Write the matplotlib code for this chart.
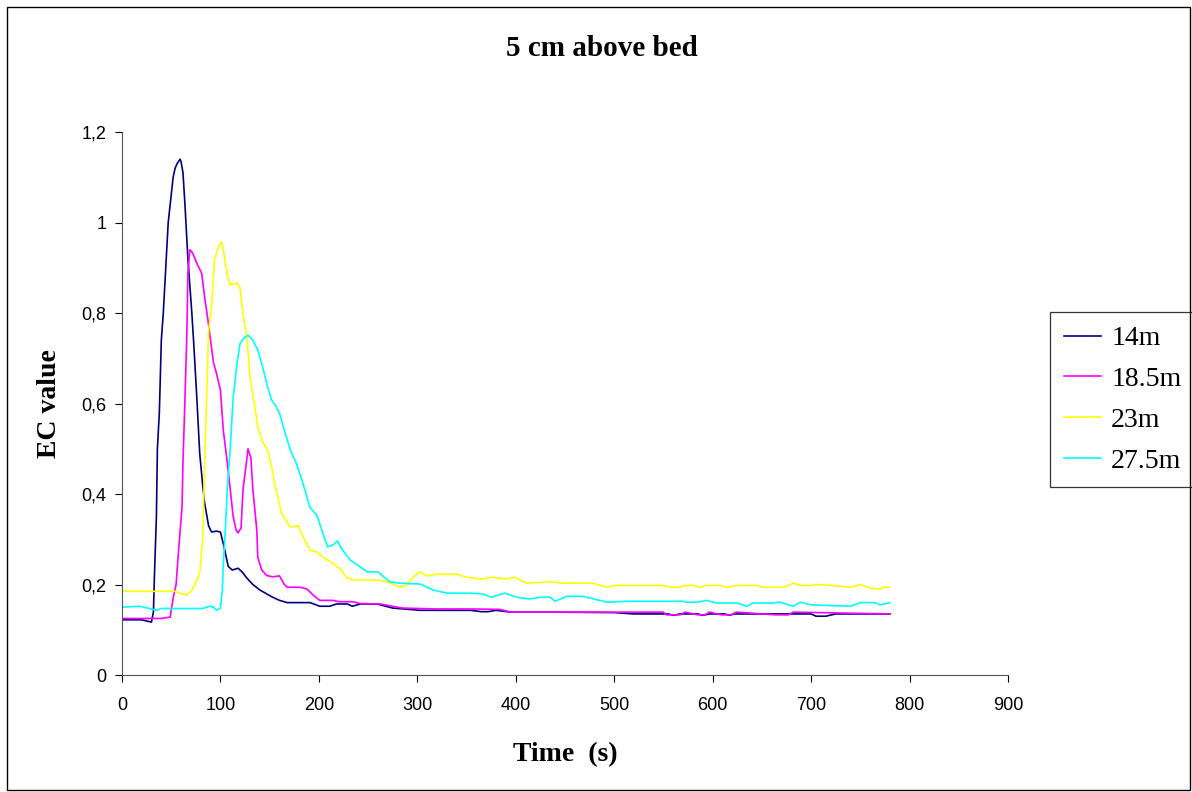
import matplotlib
matplotlib.use('Agg')
import matplotlib.pyplot as plt
from matplotlib.patches import Rectangle
from matplotlib.ticker import FuncFormatter

# ── data (time in s, EC value) ───────────────────────────────────────────
t_14 = [0, 10, 20, 26, 30, 32, 33, 35, 36, 38, 40, 42, 44, 47, 49, 52, 54, 56, 59, 60,
        62, 64, 67, 71, 73, 76, 79, 82, 84, 88, 91, 96, 100, 103, 108, 112, 118, 122,
        127, 133, 140, 153, 160, 168, 180, 191, 201, 211, 218, 229, 234, 242, 259, 275,
        303, 354, 365, 372, 380, 395, 430, 500, 520, 555, 560, 567, 585, 590, 597, 612,
        617, 622, 700, 705, 715, 725, 780]
ec_14 = [0.122, 0.122, 0.122, 0.119, 0.117, 0.14, 0.22, 0.35, 0.5, 0.58, 0.74, 0.8, 0.88,
         1.0, 1.04, 1.1, 1.12, 1.13, 1.14, 1.135, 1.11, 1.04, 0.92, 0.8, 0.73, 0.615,
         0.49, 0.42, 0.38, 0.33, 0.316, 0.318, 0.316, 0.29, 0.24, 0.232, 0.236, 0.228,
         0.214, 0.2, 0.188, 0.172, 0.165, 0.16, 0.16, 0.16, 0.152, 0.152, 0.157, 0.157,
         0.152, 0.157, 0.157, 0.148, 0.143, 0.143, 0.14, 0.14, 0.143, 0.139, 0.139, 0.138,
         0.135, 0.135, 0.132, 0.135, 0.135, 0.132, 0.135, 0.135, 0.132, 0.135, 0.135,
         0.13, 0.13, 0.135, 0.135]

t_185 = [0, 20, 40, 49, 52, 55, 57, 61, 62, 64, 66, 67, 69, 72, 76, 81, 84, 87, 90, 93,
         96, 100, 103, 107, 110, 113, 116, 118, 121, 123, 127, 128, 131, 133, 137, 138,
         142, 147, 153, 160, 165, 168, 181, 188, 195, 201, 214, 221, 235, 242, 262, 285,
         320, 354, 384, 395, 550, 553, 567, 572, 585, 592, 597, 609, 619, 624, 664, 677,
         682, 780]
ec_185 = [0.125, 0.125, 0.125, 0.128, 0.17, 0.2, 0.26, 0.37, 0.47, 0.61, 0.76, 0.888,
          0.94, 0.932, 0.91, 0.888, 0.835, 0.79, 0.74, 0.69, 0.667, 0.63, 0.54, 0.47,
          0.41, 0.35, 0.32, 0.314, 0.325, 0.41, 0.48, 0.5, 0.48, 0.41, 0.32, 0.26, 0.232,
          0.22, 0.217, 0.219, 0.2, 0.194, 0.194, 0.19, 0.175, 0.165, 0.165, 0.162, 0.162,
          0.158, 0.157, 0.148, 0.146, 0.146, 0.145, 0.139, 0.139, 0.133, 0.133, 0.139,
          0.133, 0.133, 0.139, 0.133, 0.133, 0.139, 0.133, 0.133, 0.139, 0.135]

t_23 = [0, 20, 40, 54, 60, 66, 72, 79, 82, 84, 86, 88, 91, 94, 98, 101, 103, 105, 108,
        110, 117, 120, 122, 125, 127, 130, 135, 138, 143, 148, 152, 155, 162, 171, 179,
        184, 191, 198, 204, 214, 221, 229, 235, 259, 269, 282, 289, 296, 303, 310, 320,
        340, 350, 367, 375, 391, 399, 411, 435, 448, 478, 493, 499, 550, 557, 567, 572,
        580, 587, 594, 607, 614, 625, 645, 651, 672, 682, 689, 700, 705, 720, 740, 750,
        760, 770, 775, 780]
ec_23 = [0.185, 0.185, 0.185, 0.185, 0.18, 0.177, 0.19, 0.225, 0.3, 0.47, 0.61, 0.76,
         0.813, 0.917, 0.946, 0.957, 0.94, 0.91, 0.873, 0.862, 0.866, 0.855, 0.813, 0.77,
         0.747, 0.66, 0.592, 0.548, 0.515, 0.497, 0.46, 0.424, 0.358, 0.327, 0.33, 0.305,
         0.276, 0.272, 0.261, 0.247, 0.236, 0.214, 0.21, 0.21, 0.206, 0.195, 0.198, 0.217,
         0.228, 0.219, 0.223, 0.223, 0.216, 0.212, 0.216, 0.212, 0.216, 0.203, 0.206,
         0.203, 0.203, 0.194, 0.198, 0.198, 0.194, 0.194, 0.198, 0.198, 0.194, 0.198,
         0.198, 0.194, 0.198, 0.198, 0.194, 0.194, 0.203, 0.198, 0.198, 0.2, 0.198, 0.194,
         0.2, 0.192, 0.19, 0.194, 0.194]

t_275 = [0, 18, 28, 35, 40, 60, 82, 89, 93, 96, 100, 102, 103, 105, 107, 110, 113, 117,
         120, 124, 128, 133, 138, 143, 148, 152, 157, 160, 165, 171, 177, 183, 191, 198,
         204, 209, 214, 219, 224, 232, 249, 260, 272, 282, 303, 316, 330, 353, 367, 375,
         389, 401, 414, 425, 435, 440, 452, 468, 493, 513, 570, 574, 584, 594, 604, 625,
         635, 641, 661, 668, 682, 689, 700, 740, 750, 765, 770, 780]
ec_275 = [0.15, 0.152, 0.147, 0.143, 0.147, 0.147, 0.147, 0.152, 0.15, 0.143, 0.148,
          0.188, 0.247, 0.32, 0.41, 0.5, 0.614, 0.69, 0.733, 0.745, 0.751, 0.74, 0.718,
          0.68, 0.636, 0.608, 0.592, 0.579, 0.541, 0.497, 0.468, 0.43, 0.37, 0.353, 0.314,
          0.283, 0.287, 0.296, 0.276, 0.254, 0.228, 0.228, 0.206, 0.203, 0.201, 0.188,
          0.181, 0.181, 0.179, 0.172, 0.181, 0.172, 0.168, 0.172, 0.172, 0.163, 0.174,
          0.174, 0.161, 0.163, 0.163, 0.161, 0.161, 0.165, 0.159, 0.159, 0.152, 0.159,
          0.159, 0.161, 0.152, 0.161, 0.155, 0.152, 0.16, 0.16, 0.155, 0.16]

series = [
    (t_14,  ec_14,  '14m',   '#000080'),
    (t_185, ec_185, '18.5m', '#FF00FF'),
    (t_23,  ec_23,  '23m',   '#FFFF00'),
    (t_275, ec_275, '27.5m', '#00FFFF'),
]

x_ticks = [0, 100, 200, 300, 400, 500, 600, 700, 800, 900]
y_ticks = [0, 0.2, 0.4, 0.6, 0.8, 1.0, 1.2]

SERIF = 'Liberation Serif'
SANS = 'Liberation Sans'

fig = plt.figure(figsize=(11.92, 7.92), dpi=100)
ax = fig.add_axes([0.1023, 0.1477, 0.7433, 0.6856])

for t, ec, name, color in series:
    ax.plot(t, ec, color=color, linewidth=1.2, label=name)

ax.set_xlim(0, 900)
ax.set_ylim(0, 1.2)
ax.set_xticks(x_ticks)
ax.set_yticks(y_ticks)
# comma decimal separator like the original
ax.yaxis.set_major_formatter(FuncFormatter(lambda v, _: f'{v:g}'.replace('.', ',')))
for lab in ax.get_xticklabels() + ax.get_yticklabels():
    lab.set_fontfamily(SANS)
    lab.set_fontsize(13)
ax.tick_params(direction='out', length=5, width=0.8, colors='black')
ax.tick_params(axis='x', pad=11)
ax.tick_params(axis='y', pad=6)

ax.spines['top'].set_visible(False)
ax.spines['right'].set_visible(False)
ax.spines['left'].set_color('#555555')
ax.spines['bottom'].set_color('#555555')

# title sits over the whole chart area (plot + legend), not just the axes
fig.text(602 / 1192, 1 - 48 / 792, '5 cm above bed', fontfamily=SERIF, fontweight='bold',
         fontsize=21, ha='center', va='center')
ax.set_xlabel('Time  (s)', fontfamily=SERIF, fontweight='bold', fontsize=20, labelpad=20)
ax.set_ylabel('EC value', fontfamily=SERIF, fontweight='bold', fontsize=20, labelpad=14)

leg = ax.legend(loc='upper left', bbox_to_anchor=(1050 / 1192, 1 - 312 / 792),
                bbox_transform=fig.transFigure, borderaxespad=0, frameon=True,
                fancybox=False, edgecolor='black', handlelength=1.35, handletextpad=0.35,
                labelspacing=0.55, borderpad=0.5, prop={'family': SERIF, 'size': 20})
leg.get_frame().set_linewidth(0.9)

# thin border around the whole chart area
fig.patches.append(Rectangle((0.006, 0.002), 0.992, 0.989, transform=fig.transFigure,
                             fill=False, edgecolor='black', linewidth=1.0))

fig.savefig('out.png', dpi=100)
